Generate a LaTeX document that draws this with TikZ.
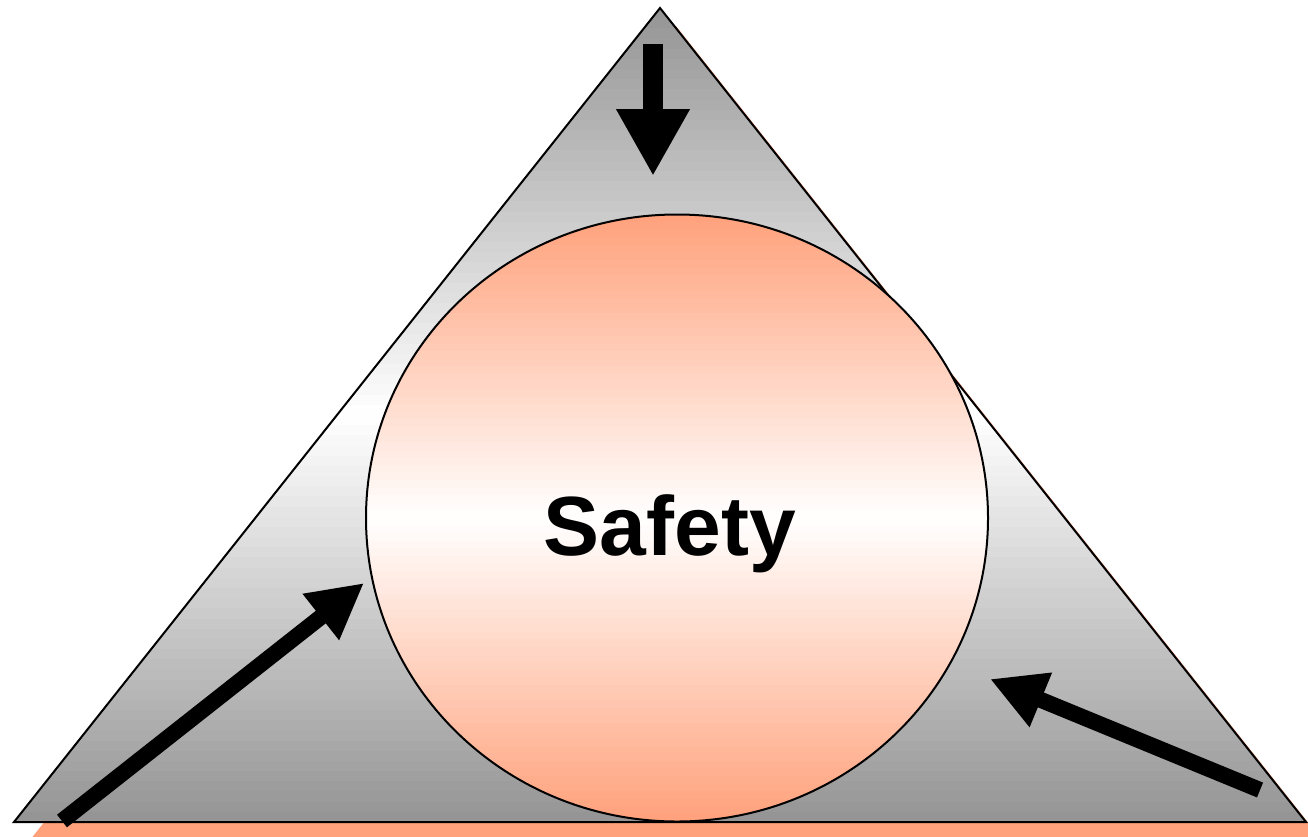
\documentclass[tikz,border=0pt]{standalone}
\usepackage{fontspec}
\setmainfont{Liberation Sans}
\usetikzlibrary{arrows.meta,shapes.geometric}
\definecolor{salmon}{RGB}{255,161,123}
\definecolor{steel}{RGB}{148,148,148}
\tikzset{
  bigarrow/.style={line width=16pt,-{Triangle[width=55pt,length=55pt]}},
  toparrow/.style={line width=20pt,-{Triangle[width=69pt,length=67pt]}}
}
\begin{document}
\begin{tikzpicture}[x=1pt,y=-1pt]
  \useasboundingbox (0,0) rectangle (1308,836);
  \clip (0,0) rectangle (1308,836);
  % shadow of the triangle
  \fill[salmon] (676,26) -- (1322,840) -- (30,840) -- cycle;
  % grey fade inside the triangle
  \begin{scope}
    \clip (660,8) -- (1306,822) -- (14,822) -- cycle;
    \foreach \i in {0,...,79} {
      \pgfmathsetmacro\t{abs(\i+0.5-40)/40*100}
      \fill[steel!\t!white] (0,8+\i*10.175) rectangle (1308,8+\i*10.175+11);
    }
  \end{scope}
  \draw[line width=2pt] (660,8) -- (1306,822) -- (14,822) -- cycle;
  % salmon fade inside the circle
  \begin{scope}
    \clip (677,518) ellipse [x radius=311, y radius=303.5];
    \foreach \i in {0,...,79} {
      \pgfmathsetmacro\t{abs(\i+0.5-40)/40*100}
      \fill[salmon!\t!white] (360,214.5+\i*7.5875) rectangle (1000,214.5+\i*7.5875+8.5);
    }
  \end{scope}
  \node[ellipse,draw,line width=2pt,inner sep=0pt,minimum width=622pt,minimum height=607pt] (safety) at (677,518) {};
  \node[anchor=base,font=\bfseries\fontsize{84}{84}\selectfont,inner sep=0pt] (label) at (670,555) {Safety};
  % arrows pointing at the circle
  \coordinate (topTail) at (653,44);
  \coordinate (topTip) at (653,176);
  \coordinate (leftTail) at (62,821);
  \coordinate (leftTip) at (364,583);
  \coordinate (rightTail) at (1260,790);
  \coordinate (rightTip) at (990,679);
  \draw[toparrow] (topTail) -- (topTip);
  \draw[bigarrow] (leftTail) -- (leftTip);
  \draw[bigarrow] (rightTail) -- (rightTip);
\end{tikzpicture}
\end{document}
